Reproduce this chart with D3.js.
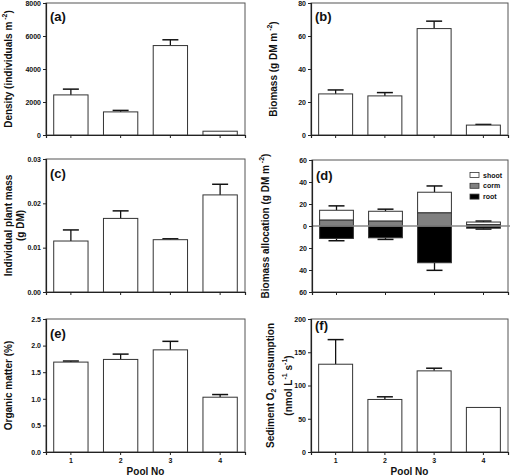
<!DOCTYPE html>
<html><head><meta charset="utf-8">
<script src="https://cdn.jsdelivr.net/npm/d3@7"></script>
<style>
body{margin:0;background:#fff;}
svg{display:block;font-family:"Liberation Sans",Arial,sans-serif;font-weight:bold;}
</style></head>
<body>
<svg id="c" width="510" height="476"></svg>
<script>
const pools = ["1","2","3","4"];
// (a) Density
const density = [2430, 1400, 5420, 230];
const densityErr = [350, 90, 350, 0];
const densityTicks = [0, 2000, 4000, 6000, 8000];
// (b) Biomass
const biomass = [24.9, 23.7, 64.5, 6.0];
const biomassErr = [2.4, 2.0, 4.5, 0.4];
const biomassTicks = [0, 20, 40, 60, 80];
// (c) Individual plant mass
const plantMass = [0.0115, 0.0166, 0.0118, 0.0219];
const plantMassErr = [0.0025, 0.0017, 0.0002, 0.0024];
const plantMassTicks = [0, 0.01, 0.02, 0.03];
// (d) Biomass allocation
const shoot = [9.0, 9.0, 18.8, 2.4];
const shootErr = [4.0, 1.9, 5.7, 0.9];
const corm = [5.3, 4.4, 11.9, 1.2];
const cormErr = [1.8, 2.1, 2.8, 0.4];
const root = [-11.3, -10.7, -33.4, -2.0];
const rootErr = [2.1, 1.5, 6.9, 0.8];
const allocTicks = [-60, -40, -20, 0, 20, 40, 60];
const allocLegend = ["shoot", "corm", "root"];
// (e) Organic matter
const organic = [1.69, 1.74, 1.92, 1.03];
const organicErr = [0.02, 0.10, 0.16, 0.05];
const organicTicks = [0, 0.5, 1.0, 1.5, 2.0, 2.5];
// (f) Sediment O2 consumption
const oxygen = [132, 79, 122, 67];
const oxygenErr = [37, 4, 4, 0];
const oxygenTicks = [0, 50, 100, 150, 200];

const svg = d3.select("#c");
const colX = [[46, 245], [311, 508]];
const rowY = [[3, 135], [159, 292], [319, 452]];
const capW = 16;

function frame(box) {
  const g = svg.append("g");
  g.append("rect").attr("x", box.x0).attr("y", box.y0)
    .attr("width", box.x1 - box.x0).attr("height", box.y1 - box.y0)
    .attr("fill", "none").attr("stroke", "#555").attr("stroke-width", 1);
  return g;
}

function axes(g, box, x, y, ticks, fmt, showX) {
  const ya = d3.axisLeft(y).tickValues(ticks).tickFormat(fmt).tickSize(3).tickPadding(2);
  const yg = g.append("g").attr("transform", `translate(${box.x0},0)`).call(ya);
  const xa = d3.axisBottom(x).tickSize(3).tickPadding(3).tickFormat(showX ? (d => d) : () => "");
  const xg = g.append("g").attr("transform", `translate(0,${box.y1})`).call(xa);
  [yg, xg].forEach(a => {
    a.select(".domain").attr("stroke", "#222").attr("stroke-width", 1.2);
    a.selectAll(".tick line").attr("stroke", "#222");
    a.selectAll("text").attr("font-size", 7).attr("font-weight", "bold")
      .attr("font-family", "Liberation Sans,Arial,sans-serif").attr("fill", "#111");
  });
  if (showX) {
    g.append("text").attr("x", (box.x0 + box.x1) / 2).attr("y", 475)
      .attr("text-anchor", "middle").attr("font-size", 10).attr("fill", "#111").text("Pool No");
  }
}

function panelLabel(g, box, txt, dy) {
  g.append("text").attr("x", box.x0 + 4).attr("y", box.y0 + dy)
    .attr("font-size", 13).attr("fill", "#111").text(txt);
}

function yTitle(g, cx, cy, parts) {
  const t = g.append("text").attr("transform", `translate(${cx},${cy}) rotate(-90)`)
    .attr("text-anchor", "middle").attr("dominant-baseline", "central")
    .attr("font-size", 10).attr("fill", "#111");
  parts.forEach(p => {
    const s = t.append("tspan").text(p.t);
    if (p.sup) s.attr("font-size", 7).attr("dy", -4);
    else if (p.sub) s.attr("font-size", 7).attr("dy", 3);
    else if (p.back) s.attr("dy", p.back);
  });
}

function errBars(g, x, y, vals, errs, dir) {
  vals.forEach((v, i) => {
    if (!errs[i]) return;
    const cx = x(pools[i]) + x.bandwidth() / 2;
    const end = v + dir * errs[i];
    g.append("line").attr("x1", cx).attr("x2", cx).attr("y1", y(v)).attr("y2", y(end))
      .attr("stroke", "#111").attr("stroke-width", 1.3);
    g.append("line").attr("x1", cx - capW / 2).attr("x2", cx + capW / 2)
      .attr("y1", y(end)).attr("y2", y(end)).attr("stroke", "#111").attr("stroke-width", 1.5);
  });
}

function simplePanel(col, row, vals, errs, ticks, fmt, label, labelDy, showX) {
  const box = {x0: colX[col][0], x1: colX[col][1], y0: rowY[row][0], y1: rowY[row][1]};
  const x = d3.scaleBand().domain(pools).range([box.x0, box.x1]).paddingInner(0.31).paddingOuter(0.155);
  const y = d3.scaleLinear().domain([ticks[0], ticks[ticks.length - 1]]).range([box.y1, box.y0]);
  const g = frame(box);
  errBars(g, x, y, vals, errs, 1);
  g.selectAll("rect.bar").data(vals).enter().append("rect").attr("class", "bar")
    .attr("x", (d, i) => x(pools[i])).attr("width", x.bandwidth())
    .attr("y", d => y(d)).attr("height", d => y(0) - y(d))
    .attr("fill", "#fff").attr("stroke", "#333").attr("stroke-width", 1);
  axes(g, box, x, y, ticks, fmt, showX);
  panelLabel(g, box, label, labelDy);
  return {g, box};
}

// (a)
let p = simplePanel(0, 0, density, densityErr, densityTicks, d3.format("d"), "(a)", 18, false);
yTitle(p.g, 8, (p.box.y0 + p.box.y1) / 2, [{t: "Density (individuals m"}, {t: " -2", sup: true}, {t: ")", back: 4}]);
// (b)
p = simplePanel(1, 0, biomass, biomassErr, biomassTicks, d3.format("d"), "(b)", 18, false);
yTitle(p.g, 273, (p.box.y0 + p.box.y1) / 2, [{t: "Biomass (g DM m"}, {t: " -2", sup: true}, {t: ")", back: 4}]);
// (c)
p = simplePanel(0, 1, plantMass, plantMassErr, plantMassTicks, d3.format(".2f"), "(c)", 19, false);
yTitle(p.g, 8, (p.box.y0 + p.box.y1) / 2, [{t: "Individual plant mass"}]);
yTitle(p.g, 20, (p.box.y0 + p.box.y1) / 2, [{t: "(g DM)"}]);
// (e)
p = simplePanel(0, 2, organic, organicErr, organicTicks, d3.format(".1f"), "(e)", 19, true);
yTitle(p.g, 8, (p.box.y0 + p.box.y1) / 2, [{t: "Organic matter (%)"}]);
// (f)
p = simplePanel(1, 2, oxygen, oxygenErr, oxygenTicks, d3.format("d"), "(f)", 11, true);
yTitle(p.g, 270, (p.box.y0 + p.box.y1) / 2, [{t: "Sediment O"}, {t: "2", sub: true}, {t: " consumption", back: -3}]);
yTitle(p.g, 288, (p.box.y0 + p.box.y1) / 2, [{t: "(nmol L"}, {t: "-1", sup: true}, {t: " s", back: 4}, {t: "-1", sup: true}, {t: ")", back: 4}]);

// (d)
(function () {
  const box = {x0: colX[1][0] + 1, x1: colX[1][1], y0: rowY[1][0] + 1, y1: rowY[1][1]};
  const x = d3.scaleBand().domain(pools).range([box.x0, box.x1]).paddingInner(0.31).paddingOuter(0.155);
  const y = d3.scaleLinear().domain([-60, 60]).range([box.y1, box.y0]);
  const g = frame(box);
  const total = shoot.map((s, i) => s + corm[i]);
  errBars(g, x, y, total, shootErr, 1);
  errBars(g, x, y, corm, cormErr, 1);
  errBars(g, x, y, root, rootErr, -1);
  const segs = [];
  pools.forEach((pl, i) => {
    segs.push({p: pl, lo: corm[i], hi: total[i], fill: "#fff"});
    segs.push({p: pl, lo: 0, hi: corm[i], fill: "#808080"});
    segs.push({p: pl, lo: root[i], hi: 0, fill: "#000"});
  });
  g.selectAll("rect.seg").data(segs).enter().append("rect").attr("class", "seg")
    .attr("x", d => x(d.p)).attr("width", x.bandwidth())
    .attr("y", d => y(d.hi)).attr("height", d => y(d.lo) - y(d.hi))
    .attr("fill", d => d.fill).attr("stroke", "#333").attr("stroke-width", 1);
  g.append("line").attr("x1", box.x0).attr("x2", 510).attr("y1", y(0)).attr("y2", y(0))
    .attr("stroke", "#888").attr("stroke-width", 1.5);
  axes(g, box, x, y, allocTicks, d => Math.abs(d), false);
  panelLabel(g, box, "(d)", 20);
  const fills = ["#fff", "#808080", "#000"];
  allocLegend.forEach((name, i) => {
    const ly = 175 + i * 10.8;
    g.append("rect").attr("x", 470).attr("y", ly - 2.5).attr("width", 9).attr("height", 5)
      .attr("fill", fills[i]).attr("stroke", "#333").attr("stroke-width", 0.8);
    g.append("text").attr("x", 483).attr("y", ly).attr("dominant-baseline", "central")
      .attr("font-size", 7).attr("fill", "#111").text(name);
  });
  yTitle(g, 265, (box.y0 + box.y1) / 2, [{t: "Biomass allocation (g DM m"}, {t: " -2", sup: true}, {t: ")", back: 4}]);
})();
</script>
</body></html>
